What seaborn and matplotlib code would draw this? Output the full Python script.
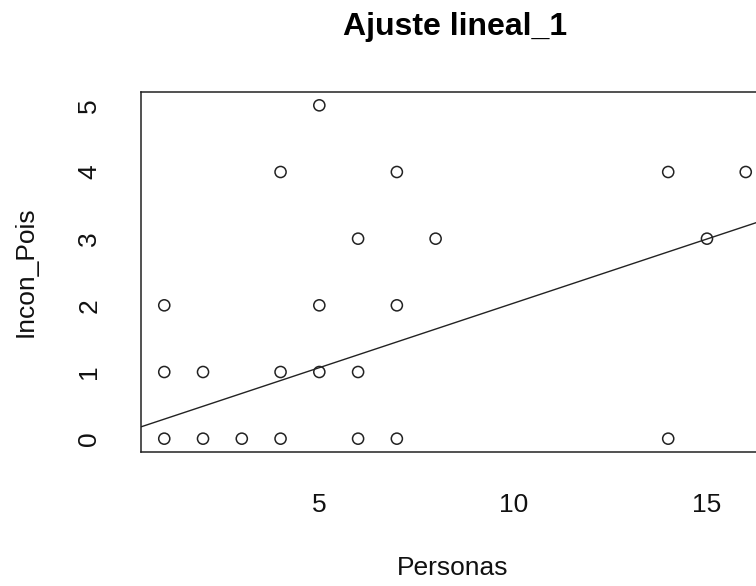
import matplotlib
matplotlib.use("Agg")
import matplotlib.pyplot as plt
import seaborn as sns
import pandas as pd

# Observed counts
personas = [1, 1, 1, 2, 2, 3, 4, 4, 4, 5, 5, 5, 6, 6, 6, 7, 7, 7, 8, 14, 14, 15, 16]
incon_pois = [0, 1, 2, 0, 1, 0, 0, 1, 4, 1, 2, 5, 0, 1, 3, 0, 2, 4, 3, 0, 4, 3, 4]

# Fitted linear model coefficients
intercept = 0.10
slope = 0.193

x_ticks = [5, 10, 15]
y_ticks = [0, 1, 2, 3, 4, 5]

df = pd.DataFrame({"Personas": personas, "Incon_Pois": incon_pois})

sns.set_theme(style="white")
plt.rcParams["font.family"] = ["Liberation Sans", "DejaVu Sans"]

fig = plt.figure(figsize=(7.56, 5.86), dpi=100)
ax = fig.add_axes([141 / 756, 1 - 452 / 586, 628 / 756, 360 / 586])

sns.scatterplot(data=df, x="Personas", y="Incon_Pois", ax=ax, marker="o",
                s=64, facecolors="none", edgecolor="#222222", linewidth=1.1,
                zorder=3)
ax.axline((0, intercept), slope=slope, color="#222222", linewidth=1.0, zorder=2)

ax.set_xlim(0.4, 16.6)
ax.set_ylim(-0.2, 5.2)
ax.set_xticks(x_ticks)
ax.set_yticks(y_ticks)
ax.set_yticklabels([str(v) for v in y_ticks], rotation=90, va="center")

for side in ["left", "bottom", "top", "right"]:
    ax.spines[side].set_visible(True)
    ax.spines[side].set_color("#222222")
    ax.spines[side].set_linewidth(1.1)

ax.tick_params(axis="both", direction="out", length=11.5, width=1.0,
               color="#333333", labelsize=19, labelcolor="#111111")
ax.tick_params(axis="x", pad=18)
ax.tick_params(axis="y", pad=17)

ax.set_xlabel("Personas", fontsize=19, color="#111111")
ax.set_ylabel("Incon_Pois", fontsize=19, color="#111111")
ax.xaxis.set_label_coords(0.496, -0.29)
ax.yaxis.set_label_coords(-0.165, 0.5)

ax.set_title("Ajuste lineal_1", fontsize=23, fontweight="bold", pad=41,
             color="#000000")

fig.savefig("out.png", dpi=100)
